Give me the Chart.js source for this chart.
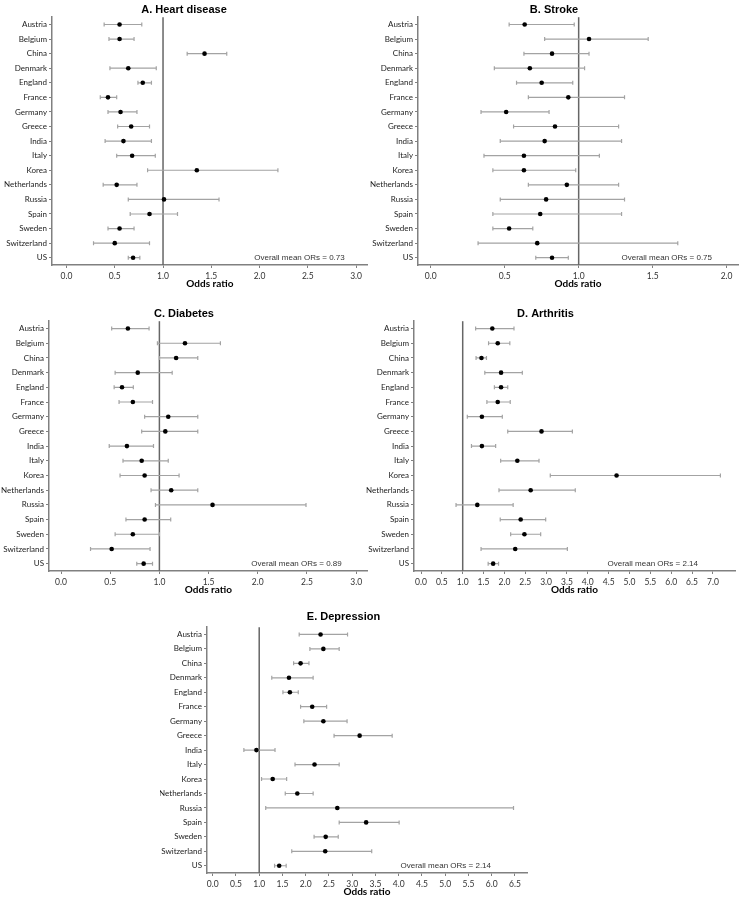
<!DOCTYPE html>
<html>
<head>
<meta charset="utf-8">
<script src="https://cdn.jsdelivr.net/npm/chart.js@4.4.1/dist/chart.umd.min.js"></script>
<style>
html,body{margin:0;padding:0;background:#fff;}
body{width:741px;height:900px;position:relative;overflow:hidden;}
canvas{position:absolute;}
</style>
</head>
<body>
<canvas id="cA" width="370" height="290" style="left:0;top:0"></canvas>
<canvas id="cB" width="371" height="290" style="left:370px;top:0"></canvas>
<canvas id="cC" width="370" height="292" style="left:0;top:304px"></canvas>
<canvas id="cD" width="385" height="292" style="left:356px;top:304px"></canvas>
<canvas id="cE" width="380" height="292" style="left:160px;top:606px"></canvas>
<script>
'use strict';

/* ── DATA ──────────────────────────────────── */
const countries = ['Austria','Belgium','China','Denmark','England','France','Germany','Greece','India','Italy','Korea','Netherlands','Russia','Spain','Sweden','Switzerland','US'];

const heartOR = [0.55,0.55,1.43,0.64,0.79,0.43,0.56,0.67,0.59,0.68,1.35,0.52,1.01,0.86,0.55,0.50,0.69];
const heartLo = [0.39,0.44,1.25,0.45,0.74,0.35,0.43,0.53,0.40,0.52,0.84,0.38,0.64,0.66,0.43,0.28,0.64];
const heartHi = [0.78,0.70,1.66,0.93,0.88,0.52,0.73,0.86,0.88,0.92,2.19,0.73,1.58,1.15,0.70,0.86,0.76];

const strokeOR = [0.635,1.07,0.82,0.67,0.75,0.93,0.51,0.84,0.77,0.63,0.63,0.92,0.78,0.74,0.53,0.72,0.82];
const strokeLo = [0.53,0.77,0.63,0.43,0.58,0.66,0.34,0.56,0.47,0.36,0.42,0.66,0.47,0.42,0.42,0.32,0.71];
const strokeHi = [0.97,1.47,1.07,1.04,0.96,1.31,0.80,1.27,1.29,1.14,0.98,1.27,1.31,1.29,0.69,1.67,0.93];

const diabOR = [0.68,1.26,1.17,0.78,0.62,0.73,1.09,1.06,0.67,0.82,0.85,1.12,1.54,0.85,0.73,0.515,0.84];
const diabLo = [0.515,0.98,1.00,0.55,0.54,0.59,0.85,0.82,0.49,0.63,0.60,0.915,0.96,0.66,0.55,0.30,0.77];
const diabHi = [0.895,1.62,1.39,1.13,0.735,0.93,1.39,1.39,0.94,1.09,1.20,1.39,2.49,1.115,1.00,0.905,0.93];

const arthOR = [1.71,1.84,1.45,1.92,1.92,1.84,1.46,2.89,1.46,2.31,4.69,2.63,1.35,2.39,2.48,2.26,1.73];
const arthLo = [1.31,1.62,1.32,1.53,1.76,1.58,1.11,2.08,1.21,1.91,3.10,1.87,0.84,1.90,2.15,1.44,1.61];
const arthHi = [2.23,2.13,1.57,2.43,2.08,2.14,1.95,3.63,1.79,2.83,7.18,3.70,2.21,2.99,2.87,3.51,1.86];

const depOR = [2.32,2.38,1.89,1.64,1.66,2.14,2.38,3.16,0.94,2.19,1.29,1.82,2.68,3.30,2.43,2.42,1.43];
const depLo = [1.86,2.09,1.74,1.27,1.51,1.89,1.96,2.61,0.67,1.77,1.05,1.56,1.14,2.72,2.18,1.70,1.33];
const depHi = [2.90,2.72,2.07,2.16,1.84,2.45,2.89,3.86,1.34,2.72,1.59,2.16,6.47,4.01,2.70,3.42,1.58];

const ticks3 = [0,0.5,1,1.5,2,2.5,3];
const ticks2 = [0,0.5,1,1.5,2];
const ticks7 = [0,0.5,1,1.5,2,2.5,3,3.5,4,4.5,5,5.5,6,6.5,7];
const ticks65 = [0,0.5,1,1.5,2,2.5,3,3.5,4,4.5,5,5.5,6,6.5];

/* ── PLUGIN: ref line, error bars, note ───── */
const forestPlugin = {
  id: 'forest',
  beforeDatasetsDraw(chart, args, o) {
    const {ctx, chartArea:a, scales:{x, y}} = chart;
    ctx.save();
    const xr = x.getPixelForValue(1);
    ctx.strokeStyle = '#666'; ctx.lineWidth = 1.5;
    ctx.beginPath(); ctx.moveTo(xr, a.top); ctx.lineTo(xr, a.bottom); ctx.stroke();
    ctx.strokeStyle = '#a3a3a3'; ctx.lineWidth = 1.2;
    o.lo.forEach((lo, i) => {
      const py = y.getPixelForValue(i);
      const x0 = x.getPixelForValue(lo), x1 = x.getPixelForValue(o.hi[i]);
      ctx.beginPath();
      ctx.moveTo(x0, py); ctx.lineTo(x1, py);
      ctx.moveTo(x0, py-2); ctx.lineTo(x0, py+2);
      ctx.moveTo(x1, py-2); ctx.lineTo(x1, py+2);
      ctx.stroke();
    });
    ctx.restore();
  },
  afterDatasetsDraw(chart, args, o) {
    const {ctx, chartArea:a, scales:{y}} = chart;
    ctx.save();
    ctx.font = '8px "Liberation Sans", Arial, sans-serif';
    ctx.fillStyle = '#333';
    ctx.textAlign = 'right'; ctx.textBaseline = 'middle';
    ctx.fillText(o.note, a.right - o.noteRight, y.getPixelForValue(countries.length-1));
    ctx.restore();
  }
};

function forest(id, title, or, lo, hi, xMin, xMax, xTicks, note, box) {
  return new Chart(document.getElementById(id), {
    type: 'scatter',
    data: { datasets: [{
      data: or.map((v,i) => ({x:v, y:countries[i]})),
      pointRadius: 2.3, pointHoverRadius: 2.3,
      backgroundColor: '#000', borderColor: '#000', borderWidth: 0
    }]},
    options: {
      responsive: false, animation: false,
      layout: { padding: { left:0, right: box.pr, top:0, bottom:0 } },
      plugins: {
        legend: { display:false }, tooltip: { enabled:false },
        title: { display:true, text:title, color:'#000',
          font:{ family:'"Liberation Sans", Arial, sans-serif', size:11, weight:'bold' },
          padding:{ top: box.tt, bottom: box.tb } },
        forest: { lo, hi, note, noteRight: box.noteRight }
      },
      scales: {
        x: {
          type:'linear', min:xMin, max:xMax,
          afterBuildTicks: s => { s.ticks = xTicks.map(v => ({value:v})); },
          afterFit: s => { s.height = 25; },
          ticks: { callback: v => Number(v).toFixed(1), autoSkip:false, maxRotation:0, padding:3,
            color:'#333', font:{ family:'Lato, sans-serif', size:8.5 } },
          grid: { drawOnChartArea:false, drawTicks:true, tickLength:3, color:'#808080' },
          border: { display:true, color:'#808080', width:1.5 },
          title: { display:true, text:'Odds ratio', color:'#000', padding:0,
            font:{ family:'Lato, sans-serif', size:10, weight:'bold' } }
        },
        y: {
          type:'category', labels:countries, offset:true,
          afterFit: s => { s.width = box.yw; },
          ticks: { autoSkip:false, padding:2, color:'#222', font:{ family:'Lato, sans-serif', size:8 } },
          grid: { drawOnChartArea:false, drawTicks:true, tickLength:3, offset:false, color:'#808080' },
          border: { display:true, color:'#808080', width:1.5 }
        }
      }
    },
    plugins: [forestPlugin]
  });
}

forest('cA','A. Heart disease', heartOR, heartLo, heartHi, -0.15, 3.12, ticks3,
  'Overall mean ORs = 0.73', { yw:52, pr:2, tt:3, tb:1, noteRight:23 });
forest('cB','B. Stroke', strokeOR, strokeLo, strokeHi, -0.086, 2.077, ticks2,
  'Overall mean ORs = 0.75', { yw:48, pr:3, tt:3, tb:1, noteRight:26 });
forest('cC','C. Diabetes', diabOR, diabLo, diabHi, -0.122, 3.117, ticks3,
  'Overall mean ORs = 0.89', { yw:49, pr:2, tt:3, tb:1, noteRight:26 });
forest('cD','D. Arthritis', arthOR, arthLo, arthHi, -0.168, 7.53, ticks7,
  'Overall mean ORs = 2.14', { yw:58, pr:6, tt:3, tb:1, noteRight:37 });
forest('cE','E. Depression', depOR, depLo, depHi, -0.123, 6.76, ticks65,
  'Overall mean ORs = 2.14', { yw:47, pr:13, tt:4, tb:4, noteRight:36 });
</script>
</body>
</html>
